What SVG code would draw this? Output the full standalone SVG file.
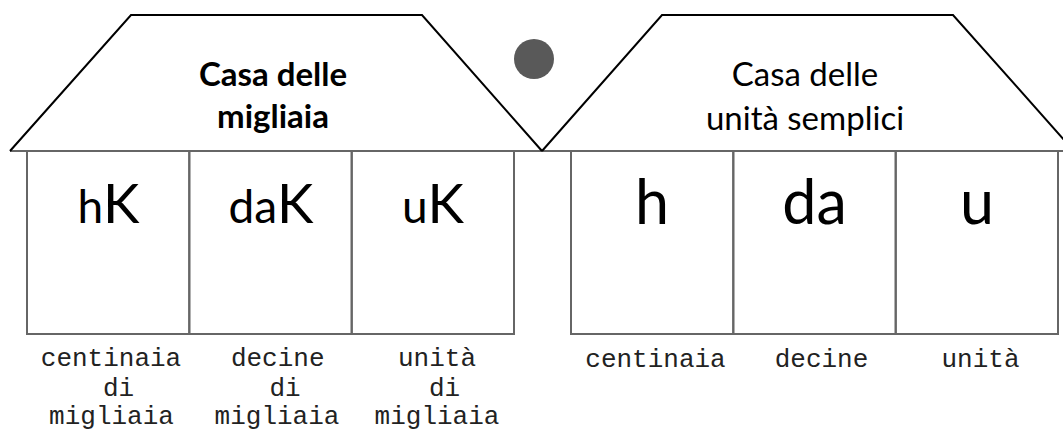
<svg xmlns="http://www.w3.org/2000/svg" width="1063" height="430" viewBox="0 0 1063 430">
<style>
.bg{fill:#fff}
.roof{fill:none;stroke:#000;stroke-width:2;stroke-linejoin:miter}
.base{stroke:#666;stroke-width:2}
.cell{fill:none;stroke:#666;stroke-width:2}
.title{font-family:Lato,"Open Sans",sans-serif;font-size:33px;fill:#000;text-anchor:middle}
.big{font-family:Lato,"Open Sans",sans-serif;fill:#000;text-anchor:middle}
.lab{font-family:"Liberation Mono","Courier New",monospace;font-size:26px;fill:#222;text-anchor:middle}
</style>
<rect class="bg" x="0" y="0" width="1063" height="430"/>
<line class="base" x1="10" y1="151" x2="1063" y2="151"/>
<g id="casa-migliaia">
  <polyline class="roof" points="10,151 131,15 422,15 542,151"/>
  <text class="title" font-weight="bold"><tspan x="273" y="86">Casa delle</tspan><tspan x="273" y="128">migliaia</tspan></text>
</g>
<g id="cell-hK">
  <rect class="cell" x="27" y="151" width="162.3" height="183"/>
  <text class="big" x="108.5" y="223"><tspan font-size="46">h</tspan><tspan font-size="55">K</tspan></text>
  <text class="lab"><tspan x="111" y="366">centinaia</tspan><tspan x="118.5" y="395.5">di</tspan><tspan x="111.5" y="424">migliaia</tspan></text>
</g>
<g id="cell-daK">
  <rect class="cell" x="189.3" y="151" width="162.4" height="183"/>
  <text class="big" x="271" y="223"><tspan font-size="46">da</tspan><tspan font-size="55">K</tspan></text>
  <text class="lab"><tspan x="277.7" y="366">decine</tspan><tspan x="285" y="395.5">di</tspan><tspan x="277" y="424">migliaia</tspan></text>
</g>
<g id="cell-uK">
  <rect class="cell" x="351.7" y="151" width="162.3" height="183"/>
  <text class="big" x="433" y="223"><tspan font-size="46">u</tspan><tspan font-size="55">K</tspan></text>
  <text class="lab"><tspan x="437" y="366">unità</tspan><tspan x="444.6" y="395.5">di</tspan><tspan x="437" y="424">migliaia</tspan></text>
</g>
<g id="separatore">
  <circle cx="534" cy="59" r="20" fill="#595959"/>
</g>
<g id="casa-unita">
  <polyline class="roof" points="542,151 662,15 953,15 1074,151"/>
  <text class="title"><tspan x="805" y="86">Casa delle</tspan><tspan x="805" y="130">unità semplici</tspan></text>
</g>
<g id="cell-h">
  <rect class="cell" x="571" y="151" width="162.3" height="183"/>
  <text class="big" x="652" y="224" font-size="61">h</text>
  <text class="lab" x="655.5" y="367">centinaia</text>
</g>
<g id="cell-da">
  <rect class="cell" x="733.3" y="151" width="162.4" height="183"/>
  <text class="big" x="814.5" y="224" font-size="61">da</text>
  <text class="lab" x="821.5" y="367">decine</text>
</g>
<g id="cell-u">
  <rect class="cell" x="895.7" y="151" width="162.3" height="183"/>
  <text class="big" x="977" y="224" font-size="61">u</text>
  <text class="lab" x="980.5" y="367">unità</text>
</g>
<g id="connectors"/>
</svg>
